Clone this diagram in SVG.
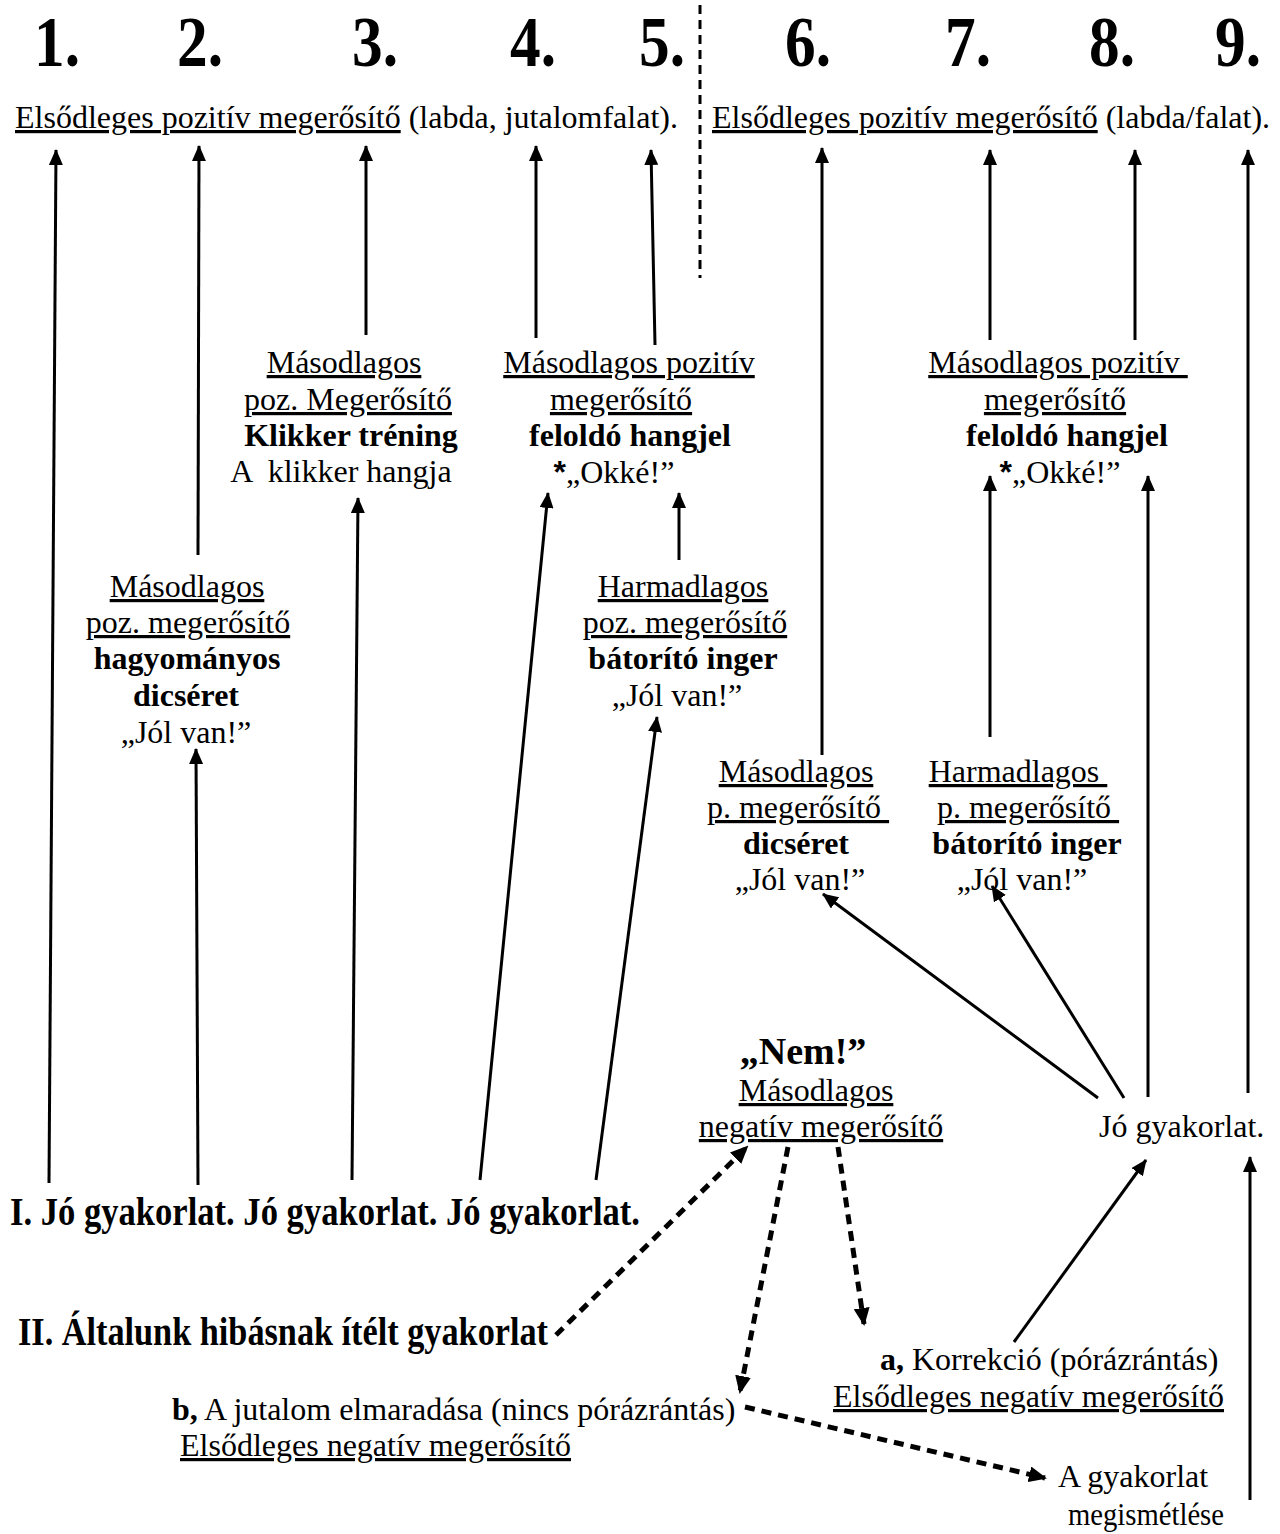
<svg xmlns="http://www.w3.org/2000/svg" width="1280" height="1534" viewBox="0 0 1280 1534">
<style>
.t{font-family:"Liberation Serif","Times New Roman",serif;font-size:32px;fill:#000}
.c{text-anchor:middle}
.b{font-weight:bold}
.u{text-decoration:underline}
.num{font-family:"Liberation Serif","Times New Roman",serif;font-size:72px;font-weight:bold;fill:#000;text-anchor:middle}
.ast{font-family:"Liberation Sans",Arial,sans-serif;font-weight:bold}
.big{font-size:40px;font-weight:bold}
.s{stroke:#000;stroke-width:3;fill:none;marker-end:url(#ah)}
.d{stroke:#000;stroke-width:5;fill:none;stroke-dasharray:10 7;marker-end:url(#ahd)}
</style>
<defs>
<marker id="ah" markerWidth="16" markerHeight="14" refX="15" refY="7" orient="auto" markerUnits="userSpaceOnUse"><path d="M0,0 L16,7 L0,14 z" fill="#000"/></marker>
<marker id="ahd" markerWidth="18" markerHeight="16" refX="16" refY="8" orient="auto" markerUnits="userSpaceOnUse"><path d="M0,0 L18,8 L0,16 z" fill="#000"/></marker>
</defs>
<rect width="1280" height="1534" fill="#fff"/>

<g id="header">
<text class="num" x="57" y="66" textLength="46" lengthAdjust="spacingAndGlyphs">1.</text>
<text class="num" x="200" y="66" textLength="46" lengthAdjust="spacingAndGlyphs">2.</text>
<text class="num" x="375" y="66" textLength="46" lengthAdjust="spacingAndGlyphs">3.</text>
<text class="num" x="533" y="66" textLength="46" lengthAdjust="spacingAndGlyphs">4.</text>
<text class="num" x="662" y="66" textLength="46" lengthAdjust="spacingAndGlyphs">5.</text>
<text class="num" x="808" y="66" textLength="46" lengthAdjust="spacingAndGlyphs">6.</text>
<text class="num" x="968" y="66" textLength="46" lengthAdjust="spacingAndGlyphs">7.</text>
<text class="num" x="1112" y="66" textLength="46" lengthAdjust="spacingAndGlyphs">8.</text>
<text class="num" x="1238" y="66" textLength="46" lengthAdjust="spacingAndGlyphs">9.</text>
<text class="t" x="15" y="128"><tspan class="u">Elsődleges pozitív megerősítő</tspan> (labda, jutalomfalat).</text>
<text class="t" x="712" y="128"><tspan class="u">Elsődleges pozitív megerősítő</tspan> (labda/falat).</text>
<line x1="700" y1="5" x2="700" y2="278" stroke="#000" stroke-width="3" stroke-dasharray="9 6"/>
</g>

<g id="n-klikker">
<text class="t c u" x="344" y="373">Másodlagos</text>
<text class="t c u" x="348" y="410">poz. Megerősítő</text>
<text class="t c b" x="351" y="446">Klikker tréning</text>
<text class="t c" x="341" y="482" xml:space="preserve">A  klikker hangja</text>
</g>

<g id="n-okke1">
<text class="t c u" x="629" y="373">Másodlagos pozitív</text>
<text class="t c u" x="621" y="410">megerősítő</text>
<text class="t c b" x="630" y="446">feloldó hangjel</text>
<text class="t c" x="614" y="483"><tspan class="ast">*</tspan>„Okké!”</text>
</g>

<g id="n-hagyomanyos">
<text class="t c u" x="187" y="597">Másodlagos</text>
<text class="t c u" x="188" y="633">poz. megerősítő</text>
<text class="t c b" x="187" y="669">hagyományos</text>
<text class="t c b" x="186" y="706">dicséret</text>
<text class="t c" x="186" y="743">„Jól van!”</text>
</g>

<g id="n-harmadlagos1">
<text class="t c u" x="683" y="597">Harmadlagos</text>
<text class="t c u" x="685" y="633">poz. megerősítő</text>
<text class="t c b" x="683" y="669">bátorító inger</text>
<text class="t c" x="677" y="706">„Jól van!”</text>
</g>

<g id="n-okke2">
<text class="t c u" x="1058" y="373" xml:space="preserve">Másodlagos pozitív </text>
<text class="t c u" x="1055" y="410">megerősítő</text>
<text class="t c b" x="1067" y="446">feloldó hangjel</text>
<text class="t c" x="1060" y="483"><tspan class="ast">*</tspan>„Okké!”</text>
</g>

<g id="n-dicseret">
<text class="t c u" x="796" y="782">Másodlagos</text>
<text class="t c u" x="798" y="818" xml:space="preserve">p. megerősítő </text>
<text class="t c b" x="796" y="854">dicséret</text>
<text class="t c" x="800" y="890">„Jól van!”</text>
</g>

<g id="n-harmadlagos2">
<text class="t c u" x="1018" y="782" xml:space="preserve">Harmadlagos </text>
<text class="t c u" x="1028" y="818" xml:space="preserve">p. megerősítő </text>
<text class="t c b" x="1027" y="854">bátorító inger</text>
<text class="t c" x="1022" y="890">„Jól van!”</text>
</g>

<g id="n-nem">
<text class="t c b" x="803" y="1064" style="font-size:38px">„Nem!”</text>
<text class="t c u" x="816" y="1101">Másodlagos</text>
<text class="t c u" x="821" y="1137">negatív megerősítő</text>
</g>

<g id="n-jo">
<text class="t" x="1099" y="1137">Jó gyakorlat.</text>
</g>

<g id="n-I">
<text class="t big" x="10" y="1225" textLength="630" lengthAdjust="spacingAndGlyphs">I. Jó gyakorlat. Jó gyakorlat. Jó gyakorlat.</text>
</g>

<g id="n-II">
<text class="t big" x="18" y="1345" textLength="530" lengthAdjust="spacingAndGlyphs">II. Általunk hibásnak ítélt gyakorlat</text>
</g>

<g id="n-a">
<text class="t" x="880" y="1370"><tspan class="b">a,</tspan> Korrekció (pórázrántás)</text>
<text class="t u" x="833" y="1407">Elsődleges negatív megerősítő</text>
</g>

<g id="n-b">
<text class="t" x="172" y="1420"><tspan class="b">b,</tspan> A jutalom elmaradása (nincs pórázrántás)</text>
<text class="t u" x="180" y="1456">Elsődleges negatív megerősítő</text>
</g>

<g id="n-ism">
<text class="t" x="1058" y="1487">A gyakorlat</text>
<text class="t" x="1068" y="1525" textLength="156" lengthAdjust="spacingAndGlyphs">megismétlése</text>
</g>

<g id="connectors">
<line class="s" x1="49" y1="1183" x2="56" y2="150"/>
<line class="s" x1="198" y1="555" x2="199" y2="146"/>
<line class="s" x1="366" y1="335" x2="366" y2="146"/>
<line class="s" x1="536" y1="338" x2="536" y2="146"/>
<line class="s" x1="655" y1="345" x2="651" y2="150"/>
<line class="s" x1="822" y1="755" x2="822" y2="148"/>
<line class="s" x1="990" y1="340" x2="990" y2="150"/>
<line class="s" x1="1135" y1="340" x2="1135" y2="150"/>
<line class="s" x1="1248" y1="1093" x2="1248" y2="150"/>

<line class="s" x1="198" y1="1185" x2="196" y2="749"/>
<line class="s" x1="352" y1="1180" x2="358" y2="498"/>
<line class="s" x1="480" y1="1180" x2="548" y2="493"/>
<line class="s" x1="596" y1="1180" x2="657" y2="717"/>
<line class="s" x1="679" y1="560" x2="679" y2="493"/>
<line class="s" x1="990" y1="737" x2="990" y2="476"/>
<line class="s" x1="1148" y1="1097" x2="1148" y2="476"/>
<line class="s" x1="1098" y1="1098" x2="823" y2="894"/>
<line class="s" x1="1124" y1="1098" x2="992" y2="886"/>
<line class="s" x1="1014" y1="1342" x2="1146" y2="1160"/>
<line class="s" x1="1250" y1="1500" x2="1250" y2="1157"/>

<line class="d" x1="556" y1="1335" x2="747" y2="1147"/>
<line class="d" x1="788" y1="1147" x2="740" y2="1392"/>
<line class="d" x1="838" y1="1147" x2="864" y2="1324"/>
<line class="d" x1="745" y1="1407" x2="1045" y2="1478"/>
</g>
</svg>
